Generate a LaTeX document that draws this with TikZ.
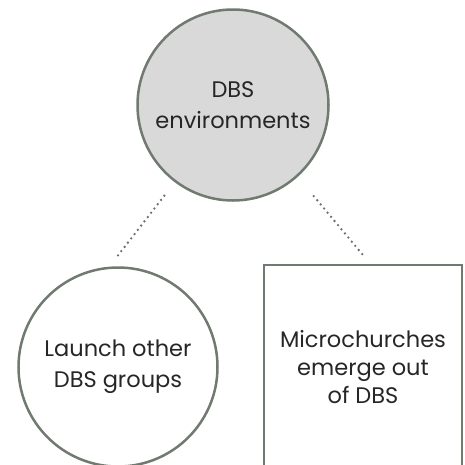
\documentclass[tikz,border=0pt]{standalone}
\usepackage{fontspec}
\usetikzlibrary{trees}
\setmainfont{Poppins}
\definecolor{rim}{RGB}{112,122,112}
\definecolor{hub}{RGB}{217,217,217}
\definecolor{dots}{RGB}{110,110,110}
\begin{document}
\begin{tikzpicture}[x=1pt,y=1pt,every node/.style={draw=rim,line width=2.5pt,align=center,font=\fontsize{22.5}{31}\selectfont,text=black!85},
  level 1/.style={grow via three points={one child at (7.5,-262) and two children at (-115,-262) and (130,-262)}},
  edge from parent/.style={draw=dots,line width=2.6pt,line cap=round,dash pattern=on 0pt off 5.4pt,shorten >=12pt}]
  \useasboundingbox (0,0) rectangle (465,-464);

  \node[circle,fill=hub,minimum size=191pt] (env) at (233,-105) {DBS\\environments}
    child[shorten <=17pt,edge from parent path={(\tikzparentnode.-127) -- (\tikzchildnode.95)}] { node[circle,minimum size=199pt] (launch) {Launch other\\DBS groups} }
    child[shorten <=25pt,edge from parent path={(\tikzparentnode.-48) -- (\tikzchildnode.86)}] { node[rectangle,minimum width=198pt,minimum height=204pt,font=\fontsize{22.5}{28}\selectfont] (micro) {Microchurches\\emerge out\\of DBS} };
\end{tikzpicture}
\end{document}
